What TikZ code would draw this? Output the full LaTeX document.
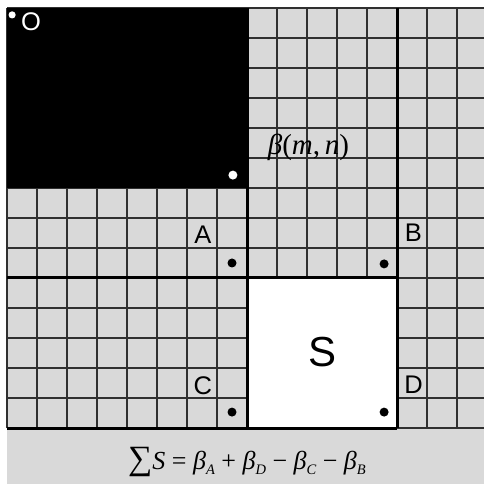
\documentclass[tikz,border=0pt]{standalone}
\usepackage{fontspec}
\setmainfont{Liberation Sans}
\newfontfamily\timesfont{Liberation Serif}
\usetikzlibrary{positioning}
\definecolor{cellgray}{HTML}{D9D9D9}
\definecolor{linegray}{HTML}{303030}

% small italic subscript for the formula
\newcommand{\lowsub}[1]{\raisebox{-0.45ex}{\fontsize{14.5}{16}\selectfont\itshape #1}}

\begin{document}
\begin{tikzpicture}[x=30pt,y=30pt,
    gridline/.style={linegray, line width=1.1pt},
    border/.style={black, line width=3pt},
    letter/.style={font=\fontsize{25.5}{30}\selectfont},
    serifmath/.style={font=\timesfont\fontsize{26}{30}\selectfont}]
    % The width of the grid in cells (cut at the right edge)
    \def\gridw{15.9}
    \useasboundingbox (-7/30,-1.9) rectangle (\gridw,14+8/30);

    % Gray background, the formula strip included
    \fill[cellgray] (0,-56/30) rectangle (\gridw,14);

    % The cell grid
    \draw[gridline, step={(1,1)}] (0,0) grid (\gridw,14);

    % The black block and the white block S
    \fill[black] (0,8) rectangle (8,14);
    \fill[white] (8,0) rectangle (13,5);

    % Thick dividing lines
    \draw[border] (8,0) -- (8,14);
    \draw[border] (13,0) -- (13,14);
    \draw[border] (0,5) -- (13,5);
    \draw[border] (0,0) -- (13,0);

    % Corner points
    \fill[white] (0.17,13.77) circle (0.12);
    \fill[white] (7.53,8.43) circle (0.15);
    \fill (7.5,5.5) circle (0.15);
    \fill (7.5,0.53) circle (0.15);
    \fill (12.57,5.47) circle (0.15);
    \fill (12.57,0.53) circle (0.15);

    % Labels
    \node[letter, white] (O) at (0.8,13.55) {O};
    \node[letter] (A) at (6.53,6.45) {A};
    \node[letter] (B) at (13.55,6.5) {B};
    \node[letter] (C) at (6.53,1.4) {C};
    \node[letter] (D) at (13.55,1.45) {D};
    \node[font=\fontsize{42}{50}\selectfont] (S) at (10.53,2.53) {S};
    \node[serifmath, font=\timesfont\fontsize{29}{34}\selectfont] (beta) at (10.05,9.37) {\textit{β}(\textit{m},\,\textit{n})};

    % The formula
    \node[serifmath] (sum) at (8.0,-1.13)
        {{\fontsize{34}{38}\selectfont ∑}\textit{S} = \textit{β}\lowsub{A} + \textit{β}\lowsub{D} − \textit{β}\lowsub{C} − \textit{β}\lowsub{B}};
\end{tikzpicture}
\end{document}
